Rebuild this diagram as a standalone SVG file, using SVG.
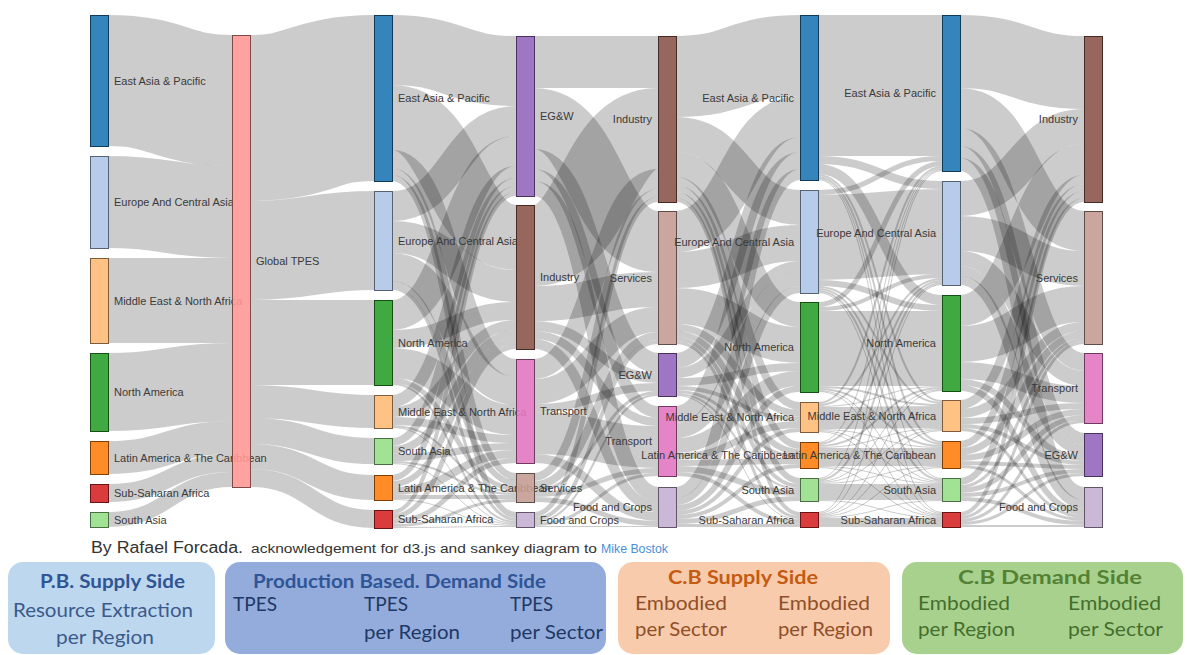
<svg xmlns="http://www.w3.org/2000/svg" width="1187" height="655" viewBox="0 0 1187 655">
<style>
  .lk{fill:none;stroke:#000;stroke-opacity:.2}
  .node rect{stroke-width:1;fill-opacity:.9;shape-rendering:crispEdges}
  .node text{font-family:"Liberation Sans",Arial,sans-serif;font-size:11px;fill:#3a3a3a}
  .end{text-anchor:end}
  .eap{fill:#1f77b4;stroke:#0f3a58}
  .eca{fill:#aec7e8;stroke:#556272}
  .mena{fill:#ffbb78;stroke:#7d5c3b}
  .na{fill:#2ca02c;stroke:#164e16}
  .lac{fill:#ff7f0e;stroke:#7d3e07}
  .ssa{fill:#d62728;stroke:#691314}
  .sa{fill:#98df8a;stroke:#4a6d44}
  .glob{fill:#ff9896;stroke:#7d4a49}
  .egw{fill:#9467bd;stroke:#49325d}
  .ind{fill:#8c564b;stroke:#452a25}
  .tra{fill:#e377c2;stroke:#6f3a5f}
  .ser{fill:#c49c94;stroke:#604c49}
  .food{fill:#c5b0d5;stroke:#615668}
  .cap{font-family:"Liberation Sans",Arial,sans-serif;fill:#333}
  .box text{font-family:Lato,"Open Sans",sans-serif;font-size:19px}
  .box .t{font-weight:bold}
</style>

<!-- flows between columns -->
<g id="links">
  <!-- resource extraction -> Global TPES -->
  <path class="lk" stroke-width="131" d="M108 80.5C170 80.5 170 100.5 232 100.5"/>
  <path class="lk" stroke-width="92" d="M108 202C170 202 170 212 232 212"/>
  <path class="lk" stroke-width="85" d="M108 300.5C170 300.5 170 300.5 232 300.5"/>
  <path class="lk" stroke-width="78" d="M108 392C170 392 170 382 232 382"/>
  <path class="lk" stroke-width="33" d="M108 457.5C170 457.5 170 437.5 232 437.5"/>
  <path class="lk" stroke-width="18" d="M108 493C170 493 170 463 232 463"/>
  <path class="lk" stroke-width="15" d="M108 519.5C170 519.5 170 479.5 232 479.5"/>

  <!-- Global TPES -> TPES per region -->
  <path class="lk" stroke-width="166" d="M250 118C312 118 312 98 374 98"/>
  <path class="lk" stroke-width="99" d="M250 250.5C312 250.5 312 240.5 374 240.5"/>
  <path class="lk" stroke-width="85" d="M250 342.5C312 342.5 312 342.5 374 342.5"/>
  <path class="lk" stroke-width="33" d="M250 401.5C312 401.5 312 411.5 374 411.5"/>
  <path class="lk" stroke-width="26" d="M250 431C312 431 312 451 374 451"/>
  <path class="lk" stroke-width="25" d="M250 456.5C312 456.5 312 487.5 374 487.5"/>
  <path class="lk" stroke-width="18" d="M250 478C312 478 312 519 374 519"/>

  <!-- TPES per region -> TPES per sector -->
  <path class="lk" stroke-width="70" d="M392 50C454 50 454 71 516 71"/>
  <path class="lk" stroke-width="65" d="M392 117.5C454 117.5 454 237.5 516 237.5"/>
  <path class="lk" stroke-width="18" d="M392 159C454 159 454 368 516 368"/>
  <path class="lk" stroke-width="7" d="M392 171.5C454 171.5 454 476.5 516 476.5"/>
  <path class="lk" stroke-width="6" d="M392 178C454 178 454 515 516 515"/>
  <path class="lk" stroke-width="30" d="M392 206C454 206 454 121 516 121"/>
  <path class="lk" stroke-width="32" d="M392 237C454 237 454 286 516 286"/>
  <path class="lk" stroke-width="28" d="M392 267C454 267 454 391 516 391"/>
  <path class="lk" stroke-width="6" d="M392 284C454 284 454 483 516 483"/>
  <path class="lk" stroke-width="3" d="M392 288.5C454 288.5 454 519.5 516 519.5"/>
  <path class="lk" stroke-width="30" d="M392 315C454 315 454 151 516 151"/>
  <path class="lk" stroke-width="18" d="M392 339C454 339 454 311 516 311"/>
  <path class="lk" stroke-width="30" d="M392 363C454 363 454 420 516 420"/>
  <path class="lk" stroke-width="5" d="M392 380.5C454 380.5 454 488.5 516 488.5"/>
  <path class="lk" stroke-width="2" d="M392 384C454 384 454 522 516 522"/>
  <path class="lk" stroke-width="12" d="M392 401C454 401 454 172 516 172"/>
  <path class="lk" stroke-width="10" d="M392 412C454 412 454 325 516 325"/>
  <path class="lk" stroke-width="8" d="M392 421C454 421 454 439 516 439"/>
  <path class="lk" stroke-width="2" d="M392 426C454 426 454 492 516 492"/>
  <path class="lk" stroke-width="1" d="M392 427.5C454 427.5 454 523.5 516 523.5"/>
  <path class="lk" stroke-width="8" d="M392 442C454 442 454 182 516 182"/>
  <path class="lk" stroke-width="8" d="M392 450C454 450 454 334 516 334"/>
  <path class="lk" stroke-width="7" d="M392 457.5C454 457.5 454 446.5 516 446.5"/>
  <path class="lk" stroke-width="2" d="M392 462C454 462 454 494 516 494"/>
  <path class="lk" stroke-width="1" d="M392 463.5C454 463.5 454 524.5 516 524.5"/>
  <path class="lk" stroke-width="6" d="M392 478C454 478 454 189 516 189"/>
  <path class="lk" stroke-width="6" d="M392 484C454 484 454 341 516 341"/>
  <path class="lk" stroke-width="8" d="M392 491C454 491 454 454 516 454"/>
  <path class="lk" stroke-width="4" d="M392 497C454 497 454 497 516 497"/>
  <path class="lk" stroke-width="1" d="M392 499.5C454 499.5 454 525.5 516 525.5"/>
  <path class="lk" stroke-width="4" d="M392 512C454 512 454 194 516 194"/>
  <path class="lk" stroke-width="5" d="M392 516.5C454 516.5 454 346.5 516 346.5"/>
  <path class="lk" stroke-width="5" d="M392 521.5C454 521.5 454 460.5 516 460.5"/>
  <path class="lk" stroke-width="3" d="M392 525.5C454 525.5 454 500.5 516 500.5"/>
  <path class="lk" stroke-width="1" d="M392 527.5C454 527.5 454 526.5 516 526.5"/>

  <!-- TPES per sector -> embodied per sector -->
  <path class="lk" stroke-width="52" d="M534 62C596 62 596 62 658 62"/>
  <path class="lk" stroke-width="61" d="M534 118.5C596 118.5 596 241.5 658 241.5"/>
  <path class="lk" stroke-width="20" d="M534 159C596 159 596 363 658 363"/>
  <path class="lk" stroke-width="12" d="M534 175C596 175 596 412 658 412"/>
  <path class="lk" stroke-width="15" d="M534 188.5C596 188.5 596 494.5 658 494.5"/>
  <path class="lk" stroke-width="81" d="M534 245.5C596 245.5 596 128.5 658 128.5"/>
  <path class="lk" stroke-width="35" d="M534 303.5C596 303.5 596 289.5 658 289.5"/>
  <path class="lk" stroke-width="10" d="M534 326C596 326 596 378 658 378"/>
  <path class="lk" stroke-width="8" d="M534 335C596 335 596 422 658 422"/>
  <path class="lk" stroke-width="10" d="M534 344C596 344 596 507 658 507"/>
  <path class="lk" stroke-width="20" d="M534 369C596 369 596 179 658 179"/>
  <path class="lk" stroke-width="25" d="M534 391.5C596 391.5 596 319.5 658 319.5"/>
  <path class="lk" stroke-width="8" d="M534 408C596 408 596 387 658 387"/>
  <path class="lk" stroke-width="42" d="M534 433C596 433 596 447 658 447"/>
  <path class="lk" stroke-width="9" d="M534 458.5C596 458.5 596 516.5 658 516.5"/>
  <path class="lk" stroke-width="8" d="M534 477C596 477 596 193 658 193"/>
  <path class="lk" stroke-width="8" d="M534 485C596 485 596 336 658 336"/>
  <path class="lk" stroke-width="3" d="M534 490.5C596 490.5 596 392.5 658 392.5"/>
  <path class="lk" stroke-width="5" d="M534 494.5C596 494.5 596 470.5 658 470.5"/>
  <path class="lk" stroke-width="5" d="M534 499.5C596 499.5 596 523.5 658 523.5"/>
  <path class="lk" stroke-width="5" d="M534 514.5C596 514.5 596 199.5 658 199.5"/>
  <path class="lk" stroke-width="4" d="M534 519C596 519 596 342 658 342"/>
  <path class="lk" stroke-width="2" d="M534 522C596 522 596 395 658 395"/>
  <path class="lk" stroke-width="3" d="M534 524.5C596 524.5 596 474.5 658 474.5"/>
  <path class="lk" stroke-width="1" d="M534 526.5C596 526.5 596 526.5 658 526.5"/>

  <!-- embodied per sector -> embodied per region (supply) -->
  <path class="lk" stroke-width="81" d="M676 76.5C738 76.5 738 55.5 800 55.5"/>
  <path class="lk" stroke-width="35" d="M676 134.5C738 134.5 738 207.5 800 207.5"/>
  <path class="lk" stroke-width="25" d="M676 164.5C738 164.5 738 314.5 800 314.5"/>
  <path class="lk" stroke-width="8" d="M676 181C738 181 738 406 800 406"/>
  <path class="lk" stroke-width="7" d="M676 188.5C738 188.5 738 445.5 800 445.5"/>
  <path class="lk" stroke-width="6" d="M676 195C738 195 738 481 800 481"/>
  <path class="lk" stroke-width="4" d="M676 200C738 200 738 514 800 514"/>
  <path class="lk" stroke-width="41" d="M676 231.5C738 231.5 738 116.5 800 116.5"/>
  <path class="lk" stroke-width="36" d="M676 270C738 270 738 243 800 243"/>
  <path class="lk" stroke-width="36" d="M676 306C738 306 738 345 800 345"/>
  <path class="lk" stroke-width="7" d="M676 327.5C738 327.5 738 413.5 800 413.5"/>
  <path class="lk" stroke-width="6" d="M676 334C738 334 738 452 800 452"/>
  <path class="lk" stroke-width="4" d="M676 339C738 339 738 486 800 486"/>
  <path class="lk" stroke-width="3" d="M676 342.5C738 342.5 738 517.5 800 517.5"/>
  <path class="lk" stroke-width="15" d="M676 360.5C738 360.5 738 144.5 800 144.5"/>
  <path class="lk" stroke-width="10" d="M676 373C738 373 738 266 800 266"/>
  <path class="lk" stroke-width="8" d="M676 382C738 382 738 367 800 367"/>
  <path class="lk" stroke-width="4" d="M676 388C738 388 738 419 800 419"/>
  <path class="lk" stroke-width="3" d="M676 391.5C738 391.5 738 456.5 800 456.5"/>
  <path class="lk" stroke-width="2" d="M676 394C738 394 738 489 800 489"/>
  <path class="lk" stroke-width="1" d="M676 395.5C738 395.5 738 519.5 800 519.5"/>
  <path class="lk" stroke-width="17" d="M676 414.5C738 414.5 738 160.5 800 160.5"/>
  <path class="lk" stroke-width="15" d="M676 430.5C738 430.5 738 278.5 800 278.5"/>
  <path class="lk" stroke-width="15" d="M676 445.5C738 445.5 738 378.5 800 378.5"/>
  <path class="lk" stroke-width="7" d="M676 456.5C738 456.5 738 424.5 800 424.5"/>
  <path class="lk" stroke-width="6" d="M676 463C738 463 738 461 800 461"/>
  <path class="lk" stroke-width="6" d="M676 469C738 469 738 493 800 493"/>
  <path class="lk" stroke-width="4" d="M676 474C738 474 738 522 800 522"/>
  <path class="lk" stroke-width="11" d="M676 492.5C738 492.5 738 174.5 800 174.5"/>
  <path class="lk" stroke-width="7" d="M676 501.5C738 501.5 738 289.5 800 289.5"/>
  <path class="lk" stroke-width="6" d="M676 508C738 508 738 389 800 389"/>
  <path class="lk" stroke-width="4" d="M676 513C738 513 738 430 800 430"/>
  <path class="lk" stroke-width="4" d="M676 517C738 517 738 466 800 466"/>
  <path class="lk" stroke-width="5" d="M676 521.5C738 521.5 738 498.5 800 498.5"/>
  <path class="lk" stroke-width="3" d="M676 525.5C738 525.5 738 525.5 800 525.5"/>

  <!-- embodied per region: supply -> demand -->
  <path class="lk" stroke-width="141" d="M818 85.5C880 85.5 880 85.5 942 85.5"/>
  <path class="lk" stroke-width="8" d="M818 160C880 160 880 185 942 185"/>
  <path class="lk" stroke-width="10" d="M818 169C880 169 880 300 942 300"/>
  <path class="lk" stroke-width="2" d="M818 175C880 175 880 401 942 401"/>
  <path class="lk" stroke-width="2" d="M818 177C880 177 880 442 942 442"/>
  <path class="lk" stroke-width="1" d="M818 178.5C880 178.5 880 478.5 942 478.5"/>
  <path class="lk" stroke-width="1" d="M818 179.5C880 179.5 880 512.5 942 512.5"/>
  <path class="lk" stroke-width="5" d="M818 192.5C880 192.5 880 158.5 942 158.5"/>
  <path class="lk" stroke-width="85" d="M818 237.5C880 237.5 880 231.5 942 231.5"/>
  <path class="lk" stroke-width="6" d="M818 283C880 283 880 308 942 308"/>
  <path class="lk" stroke-width="2" d="M818 287C880 287 880 403 942 403"/>
  <path class="lk" stroke-width="2" d="M818 289C880 289 880 444 942 444"/>
  <path class="lk" stroke-width="2" d="M818 291C880 291 880 480 942 480"/>
  <path class="lk" stroke-width="1" d="M818 292.5C880 292.5 880 513.5 942 513.5"/>
  <path class="lk" stroke-width="5" d="M818 304.5C880 304.5 880 163.5 942 163.5"/>
  <path class="lk" stroke-width="4" d="M818 309C880 309 880 276 942 276"/>
  <path class="lk" stroke-width="75" d="M818 348.5C880 348.5 880 348.5 942 348.5"/>
  <path class="lk" stroke-width="2" d="M818 387C880 387 880 405 942 405"/>
  <path class="lk" stroke-width="2" d="M818 389C880 389 880 446 942 446"/>
  <path class="lk" stroke-width="1" d="M818 390.5C880 390.5 880 481.5 942 481.5"/>
  <path class="lk" stroke-width="1" d="M818 391.5C880 391.5 880 514.5 942 514.5"/>
  <path class="lk" stroke-width="2" d="M818 403C880 403 880 167 942 167"/>
  <path class="lk" stroke-width="2" d="M818 405C880 405 880 279 942 279"/>
  <path class="lk" stroke-width="1" d="M818 406.5C880 406.5 880 386.5 942 386.5"/>
  <path class="lk" stroke-width="22" d="M818 418C880 418 880 417 942 417"/>
  <path class="lk" stroke-width="1" d="M818 429.5C880 429.5 880 447.5 942 447.5"/>
  <path class="lk" stroke-width="1" d="M818 430.5C880 430.5 880 482.5 942 482.5"/>
  <path class="lk" stroke-width="1" d="M818 431.5C880 431.5 880 515.5 942 515.5"/>
  <path class="lk" stroke-width="1" d="M818 442.5C880 442.5 880 168.5 942 168.5"/>
  <path class="lk" stroke-width="2" d="M818 444C880 444 880 281 942 281"/>
  <path class="lk" stroke-width="2" d="M818 446C880 446 880 388 942 388"/>
  <path class="lk" stroke-width="1" d="M818 447.5C880 447.5 880 428.5 942 428.5"/>
  <path class="lk" stroke-width="18" d="M818 457C880 457 880 457 942 457"/>
  <path class="lk" stroke-width="1" d="M818 466.5C880 466.5 880 483.5 942 483.5"/>
  <path class="lk" stroke-width="1" d="M818 467.5C880 467.5 880 516.5 942 516.5"/>
  <path class="lk" stroke-width="1" d="M818 478.5C880 478.5 880 169.5 942 169.5"/>
  <path class="lk" stroke-width="2" d="M818 480C880 480 880 283 942 283"/>
  <path class="lk" stroke-width="1" d="M818 481.5C880 481.5 880 389.5 942 389.5"/>
  <path class="lk" stroke-width="1" d="M818 482.5C880 482.5 880 429.5 942 429.5"/>
  <path class="lk" stroke-width="1" d="M818 483.5C880 483.5 880 466.5 942 466.5"/>
  <path class="lk" stroke-width="16" d="M818 492C880 492 880 492 942 492"/>
  <path class="lk" stroke-width="1" d="M818 500.5C880 500.5 880 517.5 942 517.5"/>
  <path class="lk" stroke-width="1" d="M818 512.5C880 512.5 880 170.5 942 170.5"/>
  <path class="lk" stroke-width="1" d="M818 513.5C880 513.5 880 284.5 942 284.5"/>
  <path class="lk" stroke-width="1" d="M818 514.5C880 514.5 880 390.5 942 390.5"/>
  <path class="lk" stroke-width="1" d="M818 515.5C880 515.5 880 430.5 942 430.5"/>
  <path class="lk" stroke-width="1" d="M818 516.5C880 516.5 880 467.5 942 467.5"/>
  <path class="lk" stroke-width="1" d="M818 517.5C880 517.5 880 500.5 942 500.5"/>
  <path class="lk" stroke-width="9" d="M818 522.5C880 522.5 880 522.5 942 522.5"/>

  <!-- embodied per region (demand) -> embodied per sector -->
  <path class="lk" stroke-width="73" d="M960 51.5C1022 51.5 1022 72.5 1084 72.5"/>
  <path class="lk" stroke-width="40" d="M960 108C1022 108 1022 231 1084 231"/>
  <path class="lk" stroke-width="18" d="M960 137C1022 137 1022 362 1084 362"/>
  <path class="lk" stroke-width="12" d="M960 152C1022 152 1022 439 1084 439"/>
  <path class="lk" stroke-width="13" d="M960 164.5C1022 164.5 1022 493.5 1084 493.5"/>
  <path class="lk" stroke-width="35" d="M960 198.5C1022 198.5 1022 126.5 1084 126.5"/>
  <path class="lk" stroke-width="35" d="M960 233.5C1022 233.5 1022 268.5 1084 268.5"/>
  <path class="lk" stroke-width="15" d="M960 258.5C1022 258.5 1022 378.5 1084 378.5"/>
  <path class="lk" stroke-width="10" d="M960 271C1022 271 1022 450 1084 450"/>
  <path class="lk" stroke-width="9" d="M960 280.5C1022 280.5 1022 504.5 1084 504.5"/>
  <path class="lk" stroke-width="31" d="M960 310.5C1022 310.5 1022 159.5 1084 159.5"/>
  <path class="lk" stroke-width="36" d="M960 344C1022 344 1022 304 1084 304"/>
  <path class="lk" stroke-width="17" d="M960 370.5C1022 370.5 1022 394.5 1084 394.5"/>
  <path class="lk" stroke-width="6" d="M960 382C1022 382 1022 458 1084 458"/>
  <path class="lk" stroke-width="6" d="M960 388C1022 388 1022 512 1084 512"/>
  <path class="lk" stroke-width="9" d="M960 404.5C1022 404.5 1022 179.5 1084 179.5"/>
  <path class="lk" stroke-width="9" d="M960 413.5C1022 413.5 1022 326.5 1084 326.5"/>
  <path class="lk" stroke-width="6" d="M960 421C1022 421 1022 406 1084 406"/>
  <path class="lk" stroke-width="4" d="M960 426C1022 426 1022 463 1084 463"/>
  <path class="lk" stroke-width="3" d="M960 429.5C1022 429.5 1022 516.5 1084 516.5"/>
  <path class="lk" stroke-width="7" d="M960 444.5C1022 444.5 1022 187.5 1084 187.5"/>
  <path class="lk" stroke-width="7" d="M960 451.5C1022 451.5 1022 334.5 1084 334.5"/>
  <path class="lk" stroke-width="6" d="M960 458C1022 458 1022 412 1084 412"/>
  <path class="lk" stroke-width="4" d="M960 463C1022 463 1022 467 1084 467"/>
  <path class="lk" stroke-width="3" d="M960 466.5C1022 466.5 1022 519.5 1084 519.5"/>
  <path class="lk" stroke-width="7" d="M960 481.5C1022 481.5 1022 194.5 1084 194.5"/>
  <path class="lk" stroke-width="3" d="M960 486.5C1022 486.5 1022 339.5 1084 339.5"/>
  <path class="lk" stroke-width="5" d="M960 490.5C1022 490.5 1022 417.5 1084 417.5"/>
  <path class="lk" stroke-width="4" d="M960 495C1022 495 1022 471 1084 471"/>
  <path class="lk" stroke-width="4" d="M960 499C1022 499 1022 523 1084 523"/>
  <path class="lk" stroke-width="4" d="M960 514C1022 514 1022 200 1084 200"/>
  <path class="lk" stroke-width="3" d="M960 517.5C1022 517.5 1022 342.5 1084 342.5"/>
  <path class="lk" stroke-width="3" d="M960 520.5C1022 520.5 1022 421.5 1084 421.5"/>
  <path class="lk" stroke-width="3" d="M960 523.5C1022 523.5 1022 474.5 1084 474.5"/>
  <path class="lk" stroke-width="2" d="M960 526C1022 526 1022 526 1084 526"/>
</g>

<!-- column 0: resource extraction per region -->
<g id="n0-eap" class="node"><rect class="eap" x="90" y="15" width="18" height="131"/><text x="114" y="84.5">East Asia &amp; Pacific</text></g>
<g id="n0-eca" class="node"><rect class="eca" x="90" y="156" width="18" height="92"/><text x="114" y="206">Europe And Central Asia</text></g>
<g id="n0-mena" class="node"><rect class="mena" x="90" y="258" width="18" height="85"/><text x="114" y="304.5">Middle East &amp; North Africa</text></g>
<g id="n0-na" class="node"><rect class="na" x="90" y="353" width="18" height="78"/><text x="114" y="396">North America</text></g>
<g id="n0-lac" class="node"><rect class="lac" x="90" y="441" width="18" height="33"/><text x="114" y="461.5">Latin America &amp; The Caribbean</text></g>
<g id="n0-ssa" class="node"><rect class="ssa" x="90" y="484" width="18" height="18"/><text x="114" y="497">Sub-Saharan Africa</text></g>
<g id="n0-sa" class="node"><rect class="sa" x="90" y="512" width="18" height="15"/><text x="114" y="523.5">South Asia</text></g>

<!-- column 1: global total -->
<g id="n1-global" class="node"><rect class="glob" x="232" y="35" width="18" height="452"/><text x="256" y="265">Global TPES</text></g>

<!-- column 2: TPES per region -->
<g id="n2-eap" class="node"><rect class="eap" x="374" y="15" width="18" height="166"/><text x="398" y="102">East Asia &amp; Pacific</text></g>
<g id="n2-eca" class="node"><rect class="eca" x="374" y="191" width="18" height="99"/><text x="398" y="244.5">Europe And Central Asia</text></g>
<g id="n2-na" class="node"><rect class="na" x="374" y="300" width="18" height="85"/><text x="398" y="346.5">North America</text></g>
<g id="n2-mena" class="node"><rect class="mena" x="374" y="395" width="18" height="33"/><text x="398" y="415.5">Middle East &amp; North Africa</text></g>
<g id="n2-sa" class="node"><rect class="sa" x="374" y="438" width="18" height="26"/><text x="398" y="455">South Asia</text></g>
<g id="n2-lac" class="node"><rect class="lac" x="374" y="475" width="18" height="25"/><text x="398" y="491.5">Latin America &amp; The Caribbean</text></g>
<g id="n2-ssa" class="node"><rect class="ssa" x="374" y="510" width="18" height="18"/><text x="398" y="523">Sub-Saharan Africa</text></g>

<!-- column 3: TPES per sector -->
<g id="n3-egw" class="node"><rect class="egw" x="516" y="36" width="18" height="160"/><text x="540" y="120">EG&amp;W</text></g>
<g id="n3-ind" class="node"><rect class="ind" x="516" y="205" width="18" height="144"/><text x="540" y="281">Industry</text></g>
<g id="n3-tra" class="node"><rect class="tra" x="516" y="359" width="18" height="104"/><text x="540" y="415">Transport</text></g>
<g id="n3-ser" class="node"><rect class="ser" x="516" y="473" width="18" height="29"/><text x="540" y="491.5">Services</text></g>
<g id="n3-food" class="node"><rect class="food" x="516" y="512" width="18" height="15"/><text x="540" y="523.5">Food and Crops</text></g>

<!-- column 4: embodied per sector (supply) -->
<g id="n4-ind" class="node"><rect class="ind" x="658" y="36" width="18" height="166"/><text class="end" x="652" y="123">Industry</text></g>
<g id="n4-ser" class="node"><rect class="ser" x="658" y="211" width="18" height="133"/><text class="end" x="652" y="281.5">Services</text></g>
<g id="n4-egw" class="node"><rect class="egw" x="658" y="353" width="18" height="43"/><text class="end" x="652" y="378.5">EG&amp;W</text></g>
<g id="n4-tra" class="node"><rect class="tra" x="658" y="406" width="18" height="70"/><text class="end" x="652" y="445">Transport</text></g>
<g id="n4-food" class="node"><rect class="food" x="658" y="487" width="18" height="40"/><text class="end" x="652" y="511">Food and Crops</text></g>

<!-- column 5: embodied per region (supply) -->
<g id="n5-eap" class="node"><rect class="eap" x="800" y="15" width="18" height="165"/><text class="end" x="794" y="101.5">East Asia &amp; Pacific</text></g>
<g id="n5-eca" class="node"><rect class="eca" x="800" y="190" width="18" height="103"/><text class="end" x="794" y="245.5">Europe And Central Asia</text></g>
<g id="n5-na" class="node"><rect class="na" x="800" y="302" width="18" height="90"/><text class="end" x="794" y="351">North America</text></g>
<g id="n5-mena" class="node"><rect class="mena" x="800" y="402" width="18" height="30"/><text class="end" x="794" y="421">Middle East &amp; North Africa</text></g>
<g id="n5-lac" class="node"><rect class="lac" x="800" y="442" width="18" height="26"/><text class="end" x="794" y="459">Latin America &amp; The Caribbean</text></g>
<g id="n5-sa" class="node"><rect class="sa" x="800" y="478" width="18" height="23"/><text class="end" x="794" y="493.5">South Asia</text></g>
<g id="n5-ssa" class="node"><rect class="ssa" x="800" y="512" width="18" height="15"/><text class="end" x="794" y="523.5">Sub-Saharan Africa</text></g>

<!-- column 6: embodied per region (demand) -->
<g id="n6-eap" class="node"><rect class="eap" x="942" y="15" width="18" height="156"/><text class="end" x="936" y="97">East Asia &amp; Pacific</text></g>
<g id="n6-eca" class="node"><rect class="eca" x="942" y="181" width="18" height="104"/><text class="end" x="936" y="237">Europe And Central Asia</text></g>
<g id="n6-na" class="node"><rect class="na" x="942" y="295" width="18" height="96"/><text class="end" x="936" y="347">North America</text></g>
<g id="n6-mena" class="node"><rect class="mena" x="942" y="400" width="18" height="31"/><text class="end" x="936" y="419.5">Middle East &amp; North Africa</text></g>
<g id="n6-lac" class="node"><rect class="lac" x="942" y="441" width="18" height="27"/><text class="end" x="936" y="458.5">Latin America &amp; The Caribbean</text></g>
<g id="n6-sa" class="node"><rect class="sa" x="942" y="478" width="18" height="23"/><text class="end" x="936" y="493.5">South Asia</text></g>
<g id="n6-ssa" class="node"><rect class="ssa" x="942" y="512" width="18" height="15"/><text class="end" x="936" y="523.5">Sub-Saharan Africa</text></g>

<!-- column 7: embodied per sector (demand) -->
<g id="n7-ind" class="node"><rect class="ind" x="1084" y="36" width="18" height="166"/><text class="end" x="1078" y="123">Industry</text></g>
<g id="n7-ser" class="node"><rect class="ser" x="1084" y="211" width="18" height="133"/><text class="end" x="1078" y="281.5">Services</text></g>
<g id="n7-tra" class="node"><rect class="tra" x="1084" y="353" width="18" height="70"/><text class="end" x="1078" y="392">Transport</text></g>
<g id="n7-egw" class="node"><rect class="egw" x="1084" y="433" width="18" height="43"/><text class="end" x="1078" y="458.5">EG&amp;W</text></g>
<g id="n7-food" class="node"><rect class="food" x="1084" y="487" width="18" height="40"/><text class="end" x="1078" y="511">Food and Crops</text></g>

<!-- credit line -->
<g id="credit">
  <text class="cap" x="91" y="553" font-size="16" textLength="152" lengthAdjust="spacingAndGlyphs">By Rafael Forcada.</text>
  <text class="cap" x="251" y="553" font-size="12" textLength="346" lengthAdjust="spacingAndGlyphs">acknowledgement for d3.js and sankey diagram to</text>
  <text class="cap" x="601" y="553" font-size="12" fill="#4a8fd8" style="fill:#4a8fd8" textLength="67" lengthAdjust="spacingAndGlyphs">Mike Bostok</text>
</g>

<!-- column legend boxes -->
<g id="box-pb-supply" class="box">
  <rect x="8" y="562" width="207" height="92" rx="15" fill="#bdd7ee"/>
  <text class="t" x="40" y="588" fill="#2f5597" textLength="145" lengthAdjust="spacingAndGlyphs">P.B. Supply Side</text>
  <text x="13" y="617" fill="#3b5a8c" textLength="180" lengthAdjust="spacingAndGlyphs">Resource Extraction</text>
  <text x="56" y="644" fill="#3b5a8c" textLength="98" lengthAdjust="spacingAndGlyphs">per Region</text>
</g>
<g id="box-pb-demand" class="box">
  <rect x="225" y="562" width="381" height="92" rx="15" fill="#93acdc"/>
  <text class="t" x="253" y="588" fill="#2f5597" textLength="293" lengthAdjust="spacingAndGlyphs">Production Based. Demand Side</text>
  <text x="233" y="611" fill="#203864" textLength="44" lengthAdjust="spacingAndGlyphs">TPES</text>
  <text x="364" y="611" fill="#203864" textLength="44" lengthAdjust="spacingAndGlyphs">TPES</text>
  <text x="364" y="639" fill="#203864" textLength="96" lengthAdjust="spacingAndGlyphs">per Region</text>
  <text x="510" y="611" fill="#203864" textLength="43" lengthAdjust="spacingAndGlyphs">TPES</text>
  <text x="510" y="639" fill="#203864" textLength="93" lengthAdjust="spacingAndGlyphs">per Sector</text>
</g>
<g id="box-cb-supply" class="box">
  <rect x="618" y="562" width="272" height="92" rx="15" fill="#f8cbad"/>
  <text class="t" x="668" y="584" fill="#c55a11" textLength="150" lengthAdjust="spacingAndGlyphs">C.B Supply Side</text>
  <text x="635" y="610" fill="#8f4f28" textLength="92" lengthAdjust="spacingAndGlyphs">Embodied</text>
  <text x="635" y="636" fill="#8f4f28" textLength="92" lengthAdjust="spacingAndGlyphs">per Sector</text>
  <text x="778" y="610" fill="#8f4f28" textLength="92" lengthAdjust="spacingAndGlyphs">Embodied</text>
  <text x="778" y="636" fill="#8f4f28" textLength="95" lengthAdjust="spacingAndGlyphs">per Region</text>
</g>
<g id="box-cb-demand" class="box">
  <rect x="902" y="562" width="281" height="92" rx="15" fill="#a9d18e"/>
  <text class="t" x="958" y="584" fill="#548235" textLength="184" lengthAdjust="spacingAndGlyphs">C.B Demand Side</text>
  <text x="918" y="610" fill="#446e2c" textLength="92" lengthAdjust="spacingAndGlyphs">Embodied</text>
  <text x="918" y="636" fill="#446e2c" textLength="97" lengthAdjust="spacingAndGlyphs">per Region</text>
  <text x="1068" y="610" fill="#446e2c" textLength="93" lengthAdjust="spacingAndGlyphs">Embodied</text>
  <text x="1068" y="636" fill="#446e2c" textLength="95" lengthAdjust="spacingAndGlyphs">per Sector</text>
</g>
</svg>
